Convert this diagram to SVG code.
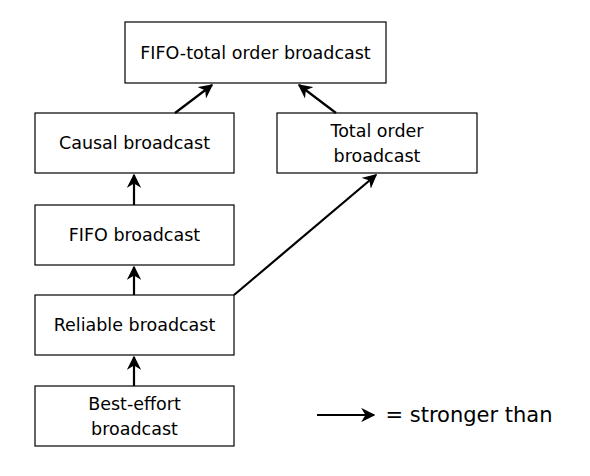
<svg xmlns="http://www.w3.org/2000/svg" width="590" height="476" viewBox="0 0 590 476">
<style>
rect.n{fill:#fff;stroke:#000;stroke-width:1.2}
text{font-family:"DejaVu Sans","Liberation Sans",sans-serif;font-size:17.5px;fill:#000;text-anchor:middle}
.c line{stroke:#000;stroke-width:2.2;marker-end:url(#ah)}
</style>
<defs>
<marker id="ah" viewBox="0 0 10 10" refX="9" refY="5" markerWidth="6.5" markerHeight="6.5" orient="auto" markerUnits="strokeWidth">
<path d="M0,0 L10,5 L0,10 L3,5 Z" fill="#000"/>
</marker>
</defs>
<rect width="590" height="476" fill="#fff"/>
<g id="fifo-total"><rect class="n" x="125" y="22" width="261" height="61"/><text x="255.5" y="59">FIFO-total order broadcast</text></g>
<g id="causal"><rect class="n" x="35" y="113" width="199" height="60"/><text x="134.5" y="149">Causal broadcast</text></g>
<g id="total"><rect class="n" x="277" y="113" width="200" height="60"/><text x="377" y="137">Total order</text><text x="377" y="162">broadcast</text></g>
<g id="fifo"><rect class="n" x="35" y="205" width="199" height="60"/><text x="134.5" y="241">FIFO broadcast</text></g>
<g id="reliable"><rect class="n" x="35" y="295" width="199" height="60"/><text x="134.5" y="331">Reliable broadcast</text></g>
<g id="best"><rect class="n" x="35" y="386" width="199" height="60"/><text x="134.5" y="410">Best-effort</text><text x="134.5" y="435">broadcast</text></g>
<g class="c" id="connectors">
<line x1="175" y1="113" x2="212" y2="85"/>
<line x1="336" y1="113" x2="299" y2="85"/>
<line x1="134" y1="205" x2="134" y2="175"/>
<line x1="134" y1="295" x2="134" y2="267"/>
<line x1="134" y1="386" x2="134" y2="357"/>
<line x1="234" y1="295" x2="376" y2="175"/>
<line x1="317" y1="415" x2="374" y2="415"/>
</g>
<text x="469" y="422" style="font-size:21px">= stronger than</text>
</svg>
